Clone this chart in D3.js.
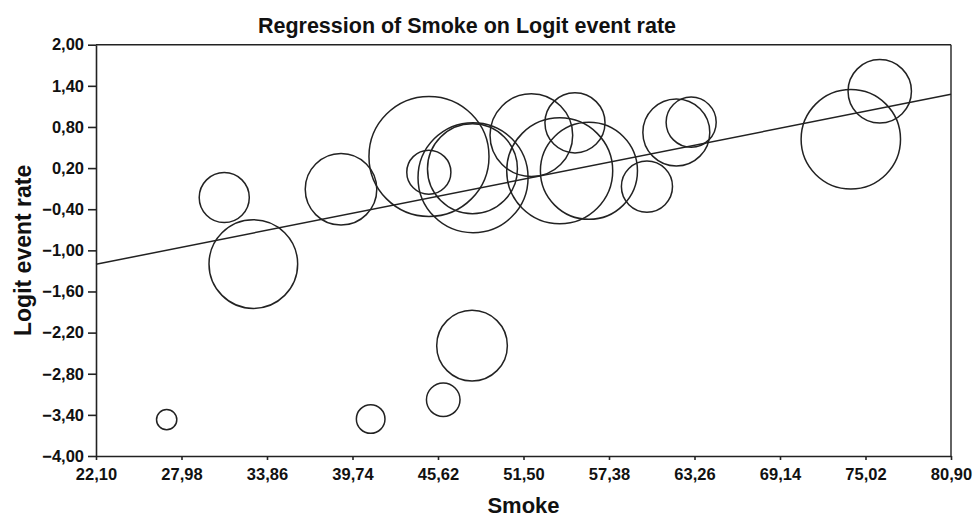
<!DOCTYPE html>
<html>
<head>
<meta charset="utf-8">
<script src="https://cdn.jsdelivr.net/npm/d3@7"></script>
<style>
body { margin: 0; background: #fff; }
text { font-family: "Liberation Sans", Arial, sans-serif; font-weight: bold; fill: #111; }
</style>
</head>
<body>
<svg width="974" height="517"></svg>
<script>
// study level values
var smoke = [26.96, 40.99, 45.98, 47.96, 30.92, 32.92, 38.95, 45.00, 44.99, 48.03,
             47.99, 52.04, 55.04, 53.99, 56.00, 59.99, 62.01, 63.03, 74.01, 76.00];
var logitRate = [-3.47, -3.46, -3.18, -2.39, -0.23, -1.20, -0.11, 0.37, 0.14, 0.06,
                 0.19, 0.68, 0.86, 0.16, 0.16, -0.07, 0.72, 0.87, 0.62, 1.32];
var weight = [1.6, 3.2, 4.4, 19.5, 9.8, 30.7, 20.0, 56.3, 7.6, 47.3,
              31.6, 26.7, 14.1, 43.9, 36.8, 10.2, 17.5, 9.8, 38.6, 15.7];

var xTicks = [22.10, 27.98, 33.86, 39.74, 45.62, 51.50, 57.38, 63.26, 69.14, 75.02, 80.90];
var yTicks = [-4.00, -3.40, -2.80, -2.20, -1.60, -1.00, -0.40, 0.20, 0.80, 1.40, 2.00];

// fitted regression line
var regIntercept = -2.136;
var regSlope = 0.0422;

var svg = d3.select("svg");
var margin = {top: 44.7, right: 23, bottom: 61, left: 96};
var width = svg.attr("width") - margin.left - margin.right;
var height = svg.attr("height") - margin.top - margin.bottom;

var fmt = function (d) { return d3.format(".2f")(d).replace(".", ","); };

var x = d3.scaleLinear()
          .domain([xTicks[0], xTicks[xTicks.length - 1]])
          .range([0, width]);

var y = d3.scaleLinear()
          .domain([yTicks[0], yTicks[yTicks.length - 1]])
          .range([height, 0]);

var r = d3.scaleSqrt()
          .domain([0, 100])
          .range([0, 80]);

svg.append("text")
   .attr("x", 467)
   .attr("y", 33)
   .attr("text-anchor", "middle")
   .style("font-size", "21.5px")
   .text("Regression of Smoke on Logit event rate");

var g = svg.append("g")
           .attr("transform", "translate(" + margin.left + "," + margin.top + ")");

// frame: top and right edges
g.append("line")
 .attr("x1", 0).attr("x2", width).attr("y1", 0).attr("y2", 0)
 .attr("stroke", "#222").attr("stroke-width", 1.4);
g.append("line")
 .attr("x1", width).attr("x2", width).attr("y1", 0).attr("y2", height)
 .attr("stroke", "#222").attr("stroke-width", 1.4);

var xAxis = g.append("g")
 .attr("transform", "translate(0," + height + ")")
 .call(d3.axisBottom(x).tickValues(xTicks).tickFormat(fmt).tickSize(4).tickSizeOuter(0).tickPadding(8));

var yAxis = g.append("g")
 .call(d3.axisLeft(y).tickValues(yTicks).tickFormat(fmt).tickSize(8).tickSizeOuter(0).tickPadding(4));

[xAxis, yAxis].forEach(function (a) {
  a.selectAll("path, line").attr("stroke", "#222").attr("stroke-width", 1.6);
  a.selectAll("text")
   .style("font-family", "'Liberation Sans', Arial, sans-serif")
   .style("font-weight", "bold")
   .style("font-size", "16.5px")
   .attr("fill", "#111");
});

// regression line across the x range
var x0 = x.domain()[0], x1 = x.domain()[1];
g.append("line")
 .attr("x1", x(x0)).attr("y1", y(regIntercept + regSlope * x0))
 .attr("x2", x(x1)).attr("y2", y(regIntercept + regSlope * x1))
 .attr("stroke", "#222").attr("stroke-width", 1.5);

g.selectAll(".bubble")
 .data(smoke)
 .enter().append("circle")
 .attr("class", "bubble")
 .attr("cx", function (d) { return x(d); })
 .attr("cy", function (d, i) { return y(logitRate[i]); })
 .attr("r", function (d, i) { return r(weight[i]); })
 .attr("fill", "none")
 .attr("stroke", "#222")
 .attr("stroke-width", 1.5);

svg.append("text")
   .attr("x", margin.left + width / 2)
   .attr("y", 513)
   .attr("text-anchor", "middle")
   .style("font-size", "22px")
   .text("Smoke");

svg.append("text")
   .attr("transform", "translate(31," + (margin.top + height / 2) + ") rotate(-90)")
   .attr("text-anchor", "middle")
   .style("font-size", "23px")
   .text("Logit event rate");
</script>
</body>
</html>
